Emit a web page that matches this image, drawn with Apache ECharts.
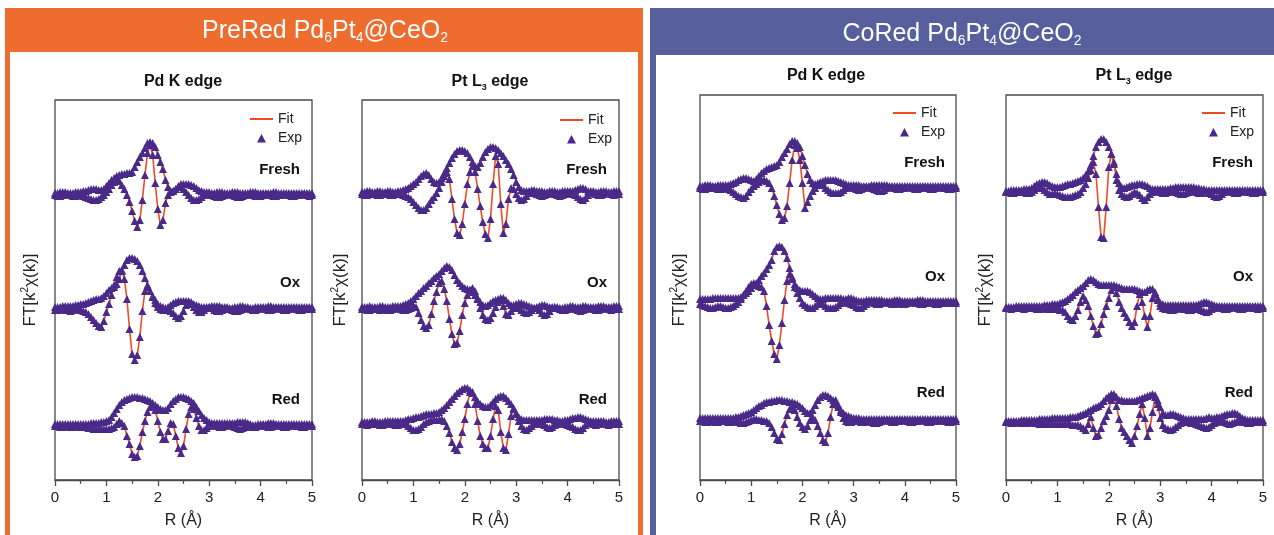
<!DOCTYPE html>
<html>
<head>
<meta charset="utf-8">
<script src="https://cdn.jsdelivr.net/npm/echarts@6/dist/echarts.min.js"></script>
<style>
  html, body { margin: 0; padding: 0; background: #fff; }
  #chart { width: 1274px; height: 535px; }
</style>
</head>
<body>
<div id="chart"></div>
<script>
// R grid (Å), shared by every trace
const R = [0,0.05,0.1,0.15,0.2,0.25,0.3,0.35,0.4,0.45,0.5,0.55,0.6,0.65,0.7,0.75,0.8,0.85,0.9,0.95,
  1,1.05,1.1,1.15,1.2,1.25,1.3,1.35,1.4,1.45,1.5,1.55,1.6,1.65,1.7,1.75,1.8,1.85,1.9,1.95,
  2,2.05,2.1,2.15,2.2,2.25,2.3,2.35,2.4,2.45,2.5,2.55,2.6,2.65,2.7,2.75,2.8,2.85,2.9,2.95,
  3,3.05,3.1,3.15,3.2,3.25,3.3,3.35,3.4,3.45,3.5,3.55,3.6,3.65,3.7,3.75,3.8,3.85,3.9,3.95,
  4,4.05,4.1,4.15,4.2,4.25,4.3,4.35,4.4,4.45,4.5,4.55,4.6,4.65,4.7,4.75,4.8,4.85,4.9,4.95,5];
const xTicks = [0, 1, 2, 3, 4, 5];
const traceNames = ['Fresh', 'Ox', 'Red'];

// ---- PreRed, Pd K edge (magnitude / imaginary part, arb. units) ----
const preRedPdFreshMag = [2,2,3,3,3,2,2,2,3,3,3, 4,4,5,6,6,6,5,5,6, 9,12,15,17,19,20,21,21,22,22,
  23,28,33,38,42,47,52,53,52,48, 40,33,26,15,8,4,4,6,9,11, 11,11,11,10,9,7,5,4,3,3,
  3,2,2,3,3,3,2,2,2,3, 3,3,2,2,2,2,3,3,3,2, 2,2,2,2,2,3,3,2,2,2, 2,2,2,2,2,2,2,2,2,2,2];
const preRedPdFreshIm = [0,-1,-1,0,1,1,0,-1,-1,0,0, -1,-2,-3,-4,-5,-5,-4,-2,0, 3,6,10,13,15,14,10,6,0,-7,
  -16,-26,-32,-25,-5,20,42,50,40,12, -14,-30,-25,-8,0,3,4,6,8,8, 6,3,0,-3,-5,-5,-4,-2,0,1,
  1,0,-1,-2,-2,-1,0,1,1,0, -1,-2,-2,-1,0,1,1,0,-1,-1, -1,0,1,1,0,-1,-1,0,0,1, 1,0,-1,-1,0,0,1,1,0,-1,0];
const preRedPdOxMag = [2,2,2,3,3,3,3,3,4,4,5, 5,6,7,8,9,10,10,11,13, 16,19,21,22,25,30,38,44,49,51,
  51,50,48,44,38,31,24,18,13,9, 5,3,2,1,2,4,6,7,8,8, 8,8,8,7,5,4,3,2,2,2,
  2,3,3,3,3,2,2,2,1,1, 2,2,3,3,2,2,1,1,2,2, 2,2,2,3,3,2,2,2,2,2, 2,2,2,2,2,2,2,2,2,2,2];
const preRedPdOxIm = [-1,-1,0,0,-1,-1,-2,-1,0,0,-1, -2,-3,-5,-8,-11,-14,-17,-18,-12, -3,5,14,24,32,38,39,30,10,-20,
  -45,-51,-46,-28,-2,18,22,18,12,6, 2,0,-1,-1,-1,-2,-4,-7,-9,-7, -2,4,6,5,2,-1,-3,-3,-1,1,
  2,1,-1,-2,-2,-1,0,1,0,-1, -2,-2,-1,0,1,1,0,-1,-1,0, 1,1,0,-1,-1,0,1,1,0,-1, -1,0,1,1,0,-1,-1,0,0,1,0];
const preRedPdRedMag = [2,2,2,2,2,2,2,2,2,2,2, 2,2,2,3,3,3,3,4,4, 5,6,9,13,17,21,24,26,27,28,
  29,29,29,28,28,27,26,25,23,21, 19,17,16,16,18,22,25,27,29,29, 29,28,27,25,23,19,15,11,8,6,
  4,3,3,3,3,3,3,3,3,3, 3,4,4,4,4,3,2,1,1,2, 2,2,2,3,3,3,2,2,2,2, 2,2,2,2,2,2,2,2,2,2,2];
const preRedPdRedIm = [0,0,-1,-1,0,0,-1,-1,0,0,-1, -1,-1,-2,-2,-3,-3,-3,-3,-3, -3,-3,-2,-1,2,5,3,0,-10,-18,
  -28,-31,-30,-20,-6,5,14,19,20,16, 5,-6,-13,-13,-5,3,2,-10,-22,-27, -20,-3,12,19,17,8,0,-4,-4,-2,
  0,1,1,0,-1,-1,0,1,1,0, -1,-2,-3,-2,-1,0,0,-1,-1,0, 1,1,0,-1,-1,0,1,1,0,-1, -1,0,1,1,0,0,-1,-1,0,0,0];

// ---- PreRed, Pt L3 edge ----
const preRedPtFreshMag = [2,2,3,3,2,2,3,3,2,2,3, 3,2,2,3,3,4,5,6,8, 10,12,15,18,20,21,19,15,12,11,
  12,16,21,26,31,36,40,43,44,44, 43,41,37,32,28,27,31,37,42,45, 47,47,46,44,41,38,34,30,25,19,
  12,7,4,3,3,3,4,4,3,3, 3,2,2,3,3,3,2,2,3,3, 3,3,3,4,5,6,6,5,3,3, 3,2,2,3,3,3,2,2,3,3,3];
const preRedPtFreshIm = [0,-1,-1,0,1,0,-1,-1,0,1,0, -1,-1,0,1,0,-1,-2,-3,-5, -8,-11,-14,-16,-16,-14,-10,-6,-3,1,
  6,12,18,22,15,-5,-25,-39,-41,-30, -10,10,22,28,22,5,-12,-28,-40,-44, -25,10,38,30,-10,-39,-30,-5,6,5,
  0,-4,-6,-5,-2,1,2,1,0,-1, -2,-1,0,1,1,0,-1,-2,-1,0, 1,1,0,-1,-3,-5,-6,-4,-1,1, 1,0,-1,-1,0,1,1,0,-1,0,0];
const preRedPtOxMag = [2,2,2,3,2,2,2,3,3,2,2, 2,3,3,3,3,4,5,6,8, 10,13,16,18,21,23,26,28,31,33,
  35,38,41,43,42,39,34,29,26,23, 21,20,19,17,14,11,7,4,3,4, 6,8,9,10,11,11,9,6,4,4,
  5,6,6,5,4,3,2,1,2,3, 4,4,3,2,2,2,2,1,1,2, 2,3,3,2,2,2,3,3,2,2, 2,2,3,3,3,2,2,2,3,3,3];
const preRedPtOxIm = [0,0,-1,-1,0,1,0,-1,0,0,-1, -1,0,1,1,0,-1,-1,0,1, 3,2,-4,-11,-17,-19,-16,-5,8,17,
  26,28,20,8,-10,-25,-35,-34,-22,-6, 6,14,19,21,18,10,1,-6,-10,-11, -9,-4,2,7,9,3,-5,-6,-2,1,
  2,1,-1,-3,-4,-3,-1,1,1,-1, -4,-6,-5,-2,1,2,1,0,-1,-1, 0,1,1,0,-1,-2,-1,0,1,1, 0,-1,-1,0,1,1,0,-1,0,0,0];
const preRedPtRedMag = [2,2,2,2,3,3,2,2,2,3,3, 3,3,3,3,3,3,4,5,5, 6,7,7,8,9,10,10,10,11,11,
  12,14,16,19,22,25,28,31,33,35, 36,36,34,31,27,23,20,18,17,17, 19,22,25,27,28,28,26,23,20,16,
  11,7,5,4,4,4,4,4,4,4, 4,5,5,5,5,4,4,3,3,4, 4,5,6,6,7,7,6,5,4,3, 3,3,3,3,3,2,2,3,3,3,3];
const preRedPtRedIm = [0,0,-1,0,1,0,0,-1,-1,0,0, 1,0,-1,-1,0,1,0,-2,-4, -6,-6,-5,-3,0,2,3,4,4,4,
  4,5,3,-2,-9,-18,-24,-26,-20,-8, 5,20,32,32,20,3,-12,-20,-24,-24, -12,5,18,14,-8,-24,-26,-10,8,15,
  10,3,-2,-5,-6,-4,-2,0,1,1, 0,-1,-3,-4,-3,-1,0,1,1,0, -1,-2,-3,-5,-6,-6,-4,-1,1,1, 0,-1,0,1,1,0,-1,0,1,0,0];

// ---- CoRed, Pd K edge ----
const coRedPdFreshMag = [2,2,3,3,3,2,2,3,3,3,3, 3,4,5,6,8,9,10,10,9, 8,7,9,12,15,17,19,20,21,22,
  23,26,31,35,39,44,47,47,45,41, 32,23,14,8,5,4,5,6,7,8, 8,8,8,8,7,6,5,4,3,3,
  3,3,3,2,2,2,2,3,3,3, 3,3,3,3,2,2,2,2,2,2, 2,2,2,2,2,2,2,2,2,2, 2,2,2,2,2,2,2,2,2,2,2];
const coRedPdFreshIm = [0,-1,-1,0,0,1,0,-1,-1,0,0, -1,-2,-4,-6,-8,-9,-10,-8,-4, -1,2,4,6,8,8,7,5,0,-8,
  -17,-26,-32,-30,-18,5,28,43,40,28, 5,-20,-14,-8,-3,0,3,5,3,0, -2,-4,-5,-5,-5,-4,-2,0,1,1,
  0,-1,-2,-1,0,1,1,0,-1,-2, -3,-3,-2,0,1,1,0,-1,-1,0, 0,1,1,0,-1,-1,0,1,1,0, -1,-1,0,1,1,0,0,-1,-1,0,0];
const coRedPdOxMag = [4,4,4,4,4,5,5,5,5,5,5, 5,5,5,5,5,6,8,10,12, 15,18,20,23,27,30,34,38,43,52,
  56,57,56,52,45,35,26,19,15,13, 12,12,12,11,9,7,5,4,4,5, 5,5,5,5,5,5,4,4,5,5,
  4,3,2,2,2,3,3,3,3,3, 3,3,2,2,2,2,3,3,3,2, 2,2,2,2,2,3,3,3,2,2, 2,2,2,2,2,2,2,2,2,2,2];
const coRedPdOxIm = [-1,-2,-3,-4,-5,-5,-4,-3,-3,-4,-5, -5,-4,-3,-1,1,4,8,12,16, 19,20,19,17,16,12,-3,-22,-38,-51,
  -56,-42,-20,3,22,29,24,16,10,5, 0,-2,-4,-5,-5,-3,-1,0,-1,-3, -5,-5,-5,-4,-2,0,1,1,0,-1,
  -2,-4,-5,-5,-3,-1,1,1,0,-1, -1,0,1,1,0,-1,-1,0,0,-1, -1,0,1,1,0,0,-1,-1,0,1, 1,0,-1,-1,0,0,1,1,0,0,0];
const coRedPdRedMag = [3,3,3,3,3,3,3,3,3,3,3, 3,3,3,4,4,5,6,7,8, 9,11,13,15,16,18,19,19,20,20,
  21,21,21,20,20,19,19,18,17,15, 13,10,8,8,11,16,21,24,26,26, 25,23,21,17,14,11,8,6,5,4,
  3,3,3,2,2,2,2,2,2,2, 2,2,2,2,2,2,2,2,2,2, 2,2,2,2,2,2,2,2,2,2, 2,2,2,2,2,2,2,2,2,2,2];
const coRedPdRedIm = [0,0,-1,-1,0,0,-1,-1,0,0,0, -1,-1,0,0,-1,-2,-2,-1,0, 1,2,2,1,1,0,0,-2,-6,-12,
  -18,-19,-13,-3,6,12,14,11,4,-2, -6,-8,-5,1,4,1,-5,-12,-19,-21, -12,4,17,21,16,9,3,0,-1,-1,
  0,1,0,-1,-1,0,0,-1,-2,-2, -1,0,1,1,0,-1,-1,0,0,1, 1,0,-1,-1,0,0,1,1,0,-1, -1,0,0,1,1,0,0,-1,-1,0,0];

// ---- CoRed, Pt L3 edge ----
const coRedPtFreshMag = [1,1,2,2,2,2,2,3,3,3,4, 6,8,9,10,10,9,7,6,5, 5,5,6,7,8,8,9,10,11,12,
  14,17,21,27,36,45,50,53,53,50, 45,38,28,18,9,5,4,5,6,7, 7,8,8,8,7,6,4,3,3,3,
  3,3,3,3,4,4,5,5,5,5, 5,5,5,5,4,4,3,3,2,2, 2,2,2,2,2,2,2,2,2,2, 2,2,2,2,2,2,2,2,2,2,2];
const coRedPtFreshIm = [0,0,-1,-1,0,0,1,0,-1,-1,0, 2,4,5,4,2,0,-2,-2,-1, -2,-3,-4,-5,-5,-5,-4,-3,-2,0,
  4,8,14,22,30,18,-15,-45,-46,-15, 25,38,30,12,2,-2,-4,-5,-4,-2, 0,-1,-3,-6,-8,-5,-2,0,1,1,
  0,-1,-1,0,1,1,0,-1,-2,-2, -1,0,1,1,0,-1,-1,0,0,-1, -2,-4,-5,-4,-2,0,1,1,0,-1, -1,0,1,1,0,0,-1,-1,0,0,0];
const coRedPtOxMag = [1,1,1,1,2,2,2,2,2,2,2, 2,2,2,2,3,3,3,4,4, 4,5,6,7,9,11,13,16,18,20,
  22,25,28,29,28,26,24,23,23,23, 23,23,23,22,21,20,19,19,19,19, 19,18,17,16,16,18,19,19,16,10,
  5,4,3,3,3,3,3,3,3,3, 3,3,3,3,3,4,5,6,6,5, 4,3,2,2,2,2,2,2,2,2, 2,2,2,2,2,2,2,2,2,2,2];
const coRedPtOxIm = [0,0,-1,0,1,0,0,-1,0,0,1, 0,-1,-1,0,0,-1,-1,-1,-1, -1,-2,-2,-4,-8,-11,-12,-8,-2,6,
  12,8,2,-8,-18,-26,-25,-16,-6,2, 10,18,21,15,6,0,-5,-9,-14,-18, -14,2,14,6,-8,-19,-8,10,14,8,
  2,0,-1,-1,-2,-2,-1,0,0,-1, -1,-2,-2,-1,0,-1,-2,-3,-4,-3, -1,0,1,1,0,-1,-1,0,1,1, 0,-1,-1,0,1,1,0,0,-1,0,0];
const coRedPtRedMag = [1,1,1,1,1,1,2,2,2,2,2, 2,2,3,3,3,3,3,4,4, 4,4,4,4,4,5,5,5,6,7,
  8,9,11,12,14,15,16,18,21,24, 26,28,28,25,22,22,21,21,21,21, 21,22,23,24,25,26,27,28,27,22,
  15,9,7,7,8,8,7,6,5,4, 3,3,3,3,3,3,3,3,4,5, 4,4,5,5,6,7,8,8,9,9, 8,6,4,3,2,2,2,2,2,2,2];
const coRedPtRedIm = [0,0,-1,-1,0,0,-1,-1,-1,0,0, -1,-1,-2,-2,-2,-2,-2,-2,-2, -2,-2,-2,-2,-2,-2,-3,-3,-3,-4,
  -6,-8,-2,5,-6,-14,-13,-6,1,6, 12,22,26,16,3,-6,-10,-14,-18,-21, -14,-4,8,18,4,-14,-6,10,25,18,
  4,-3,-6,-7,-8,-7,-5,-3,-1,0, 0,0,-1,-1,-2,-3,-4,-5,-6,-5, -3,-1,0,1,1,0,-1,-2,-1,0, 1,1,0,0,-1,-1,0,0,0,0,0];

const FONT = '"Liberation Sans", Arial, Helvetica, sans-serif';
const fitColor = '#f04a22';
const expColor = '#4a2a88';

// panel layout: plot box in pixels, baseline of each stacked trace (y-axis units = px)
const panels = [
  { left: 55, top: 100, width: 257, height: 380, bases: [285, 171, 54],
    traces: [[preRedPdFreshMag, preRedPdFreshIm], [preRedPdOxMag, preRedPdOxIm], [preRedPdRedMag, preRedPdRedIm]],
    title: '{b|Pd K edge}', titleX: 183, titleY: 82, legendLeft: 250, legendTop: 112,
    labelX: 300, labelY: [170, 283, 400], yNameX: 30 },
  { left: 362, top: 100, width: 257, height: 380, bases: [286, 171, 56],
    traces: [[preRedPtFreshMag, preRedPtFreshIm], [preRedPtOxMag, preRedPtOxIm], [preRedPtRedMag, preRedPtRedIm]],
    title: '{b|Pt L}{bs|3}{b| edge}', titleX: 490, titleY: 82, legendLeft: 560, legendTop: 113,
    labelX: 607, labelY: [170, 283, 400], yNameX: 340 },
  { left: 700, top: 95, width: 256, height: 385, bases: [292, 177, 59],
    traces: [[coRedPdFreshMag, coRedPdFreshIm], [coRedPdOxMag, coRedPdOxIm], [coRedPdRedMag, coRedPdRedIm]],
    title: '{b|Pd K edge}', titleX: 826, titleY: 76, legendLeft: 893, legendTop: 106,
    labelX: 945, labelY: [163, 277, 393], yNameX: 679 },
  { left: 1006, top: 95, width: 257, height: 385, bases: [288, 172, 58],
    traces: [[coRedPtFreshMag, coRedPtFreshIm], [coRedPtOxMag, coRedPtOxIm], [coRedPtRedMag, coRedPtRedIm]],
    title: '{b|Pt L}{bs|3}{b| edge}', titleX: 1134, titleY: 76, legendLeft: 1202, legendTop: 106,
    labelX: 1253, labelY: [163, 277, 393], yNameX: 985 }
];

const grids = [], xAxes = [], yAxes = [], series = [], legends = [];
const graphics = [
  // frames + header bands
  { type: 'rect', z: -10, shape: { x: 5, y: 8, width: 638, height: 540 }, style: { fill: '#ed6c2e' } },
  { type: 'rect', z: -9, shape: { x: 10, y: 52, width: 628, height: 490 }, style: { fill: '#ffffff' } },
  { type: 'rect', z: -10, shape: { x: 650, y: 8, width: 640, height: 540 }, style: { fill: '#575f9c' } },
  { type: 'rect', z: -9, shape: { x: 656, y: 55, width: 630, height: 490 }, style: { fill: '#ffffff' } },
  { type: 'text', z: 10, x: 325, y: 31, style: {
      text: '{t|PreRed Pd}{s|6}{t|Pt}{s|4}{t|@CeO}{s|2}', align: 'center', verticalAlign: 'middle',
      fill: '#fff', fontFamily: FONT, fontSize: 25,
      rich: { t: { fontSize: 25, lineHeight: 28, fill: '#fff' }, s: { fontSize: 14, lineHeight: 12, verticalAlign: 'bottom', fill: '#fff' } } } },
  { type: 'text', z: 10, x: 962, y: 34, style: {
      text: '{t|CoRed Pd}{s|6}{t|Pt}{s|4}{t|@CeO}{s|2}', align: 'center', verticalAlign: 'middle',
      fill: '#fff', fontFamily: FONT, fontSize: 25,
      rich: { t: { fontSize: 25, lineHeight: 28, fill: '#fff' }, s: { fontSize: 14, lineHeight: 12, verticalAlign: 'bottom', fill: '#fff' } } } }
];

panels.forEach((p, k) => {
  grids.push({ left: p.left, top: p.top, width: p.width, height: p.height, show: true,
    borderColor: '#4a4a4a', borderWidth: 1.3, backgroundColor: 'transparent', outerBoundsMode: 'none' });
  xAxes.push({
    gridIndex: k, type: 'value', min: xTicks[0], max: xTicks[xTicks.length - 1], interval: 1,
    axisLine: { show: true, lineStyle: { color: '#4a4a4a', width: 1.3 } },
    axisTick: { show: true, inside: false, length: 6, lineStyle: { color: '#4a4a4a', width: 1.3 } },
    minorTick: { show: true, splitNumber: 2, length: 4, lineStyle: { color: '#4a4a4a', width: 1.2 } },
    splitLine: { show: false }, minorSplitLine: { show: false },
    axisLabel: { fontSize: 15, color: '#222', margin: 10, fontFamily: FONT },
    name: 'R (Å)', nameLocation: 'middle', nameGap: 33,
    nameTextStyle: { fontSize: 16, color: '#222', fontFamily: FONT }
  });
  yAxes.push({ gridIndex: k, type: 'value', min: 0, max: p.height, show: false });

  const expPts = [];
  p.traces.forEach((tr, j) => {
    tr.forEach(arr => {
      const pts = R.map((r, i) => [r, p.bases[j] + arr[i]]);
      series.push({ name: 'Fit', type: 'line', xAxisIndex: k, yAxisIndex: k, data: pts,
        symbol: 'none', showSymbol: false, color: fitColor, lineStyle: { color: fitColor, width: 1.6 },
        z: 2, silent: true, animation: false });
      expPts.push(...pts);
    });
  });
  series.push({ name: 'Exp', type: 'scatter', xAxisIndex: k, yAxisIndex: k, data: expPts,
    symbol: 'triangle', symbolSize: 8, itemStyle: { color: expColor, opacity: 1 },
    z: 3, silent: true, animation: false });

  legends.push({
    left: p.legendLeft, top: p.legendTop, orient: 'vertical', padding: 0, itemGap: 5,
    itemWidth: 23, itemHeight: 9, selectedMode: false,
    textStyle: { fontSize: 14, lineHeight: 14, color: '#222', fontFamily: FONT },
    data: [
      { name: 'Fit', icon: 'path://M0,3.4H23V5.6H0Z M0,0L0.01,0Z M0,9L0.01,9Z' },
      // triangle in the middle of the icon box; the two dot sub-paths only fix the box size
      { name: 'Exp', icon: 'path://M0,9L0.01,9Z M23,0L23.01,0Z M7,9L11.5,0.5L16,9Z' }
    ]
  });

  graphics.push({ type: 'text', z: 10, x: p.titleX, y: p.titleY, style: {
    text: p.title, align: 'center', verticalAlign: 'middle', fontFamily: FONT,
    rich: { b: { fontSize: 16, fontWeight: 'bold', fill: '#111', lineHeight: 20 },
            bs: { fontSize: 9, fontWeight: 'bold', fill: '#111', lineHeight: 9, verticalAlign: 'bottom' } } } });
  graphics.push({ type: 'text', z: 10, x: p.yNameX, y: 290, rotation: Math.PI / 2, style: {
    text: '{a|FT[k}{p|2}{a|χ(k)]}', align: 'center', verticalAlign: 'middle', fontFamily: FONT,
    rich: { a: { fontSize: 17, fill: '#222', lineHeight: 20 },
            p: { fontSize: 10, fill: '#222', lineHeight: 10, verticalAlign: 'top' } } } });
  traceNames.forEach((nm, j) => {
    graphics.push({ type: 'text', z: 10, x: p.labelX, y: p.labelY[j], style: {
      text: nm, align: 'right', verticalAlign: 'middle', fontFamily: FONT,
      fontSize: 15, fontWeight: 'bold', fill: '#111' } });
  });
});

const chart = echarts.init(document.getElementById('chart'), null, { renderer: 'canvas', width: 1274, height: 535 });
chart.setOption({
  animation: false,
  backgroundColor: '#ffffff',
  grid: grids,
  xAxis: xAxes,
  yAxis: yAxes,
  legend: legends,
  series: series,
  graphic: { elements: graphics }
});
</script>
</body>
</html>
